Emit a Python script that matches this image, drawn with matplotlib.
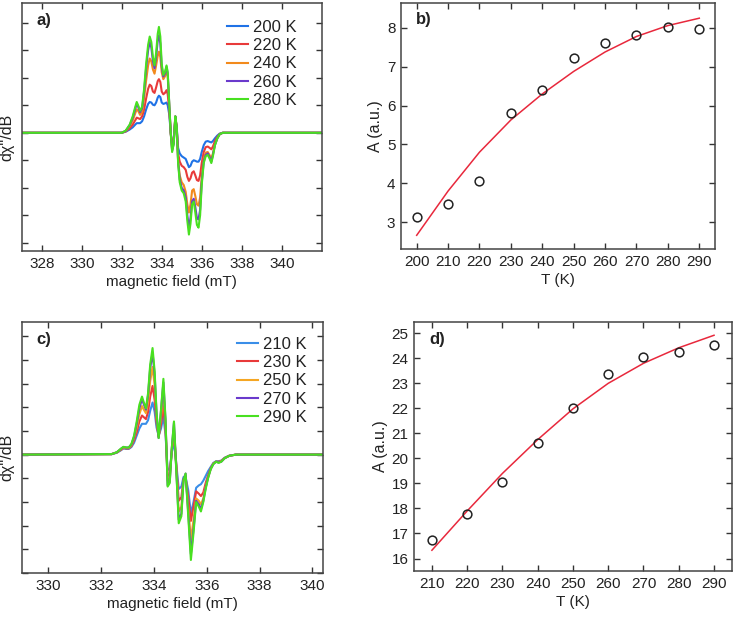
import matplotlib
matplotlib.use("Agg")
import matplotlib.pyplot as plt

plt.rcParams['font.family'] = ['Liberation Sans', 'DejaVu Sans']
plt.rcParams['font.size'] = 11
plt.rcParams['text.color'] = '#222222'
plt.rcParams['axes.labelcolor'] = '#222222'
plt.rcParams['xtick.color'] = '#333333'
plt.rcParams['ytick.color'] = '#333333'
plt.rcParams['xtick.labelcolor'] = '#222222'
plt.rcParams['ytick.labelcolor'] = '#222222'

# ---- panel a: EPR spectra (values in units of one y tick) ----
field_a = [327.0, 332.0, 332.2, 332.4, 332.55, 332.68, 332.75, 332.82, 332.92, 333.02,
           333.12, 333.22, 333.32, 333.4, 333.48, 333.56, 333.64, 333.72, 333.8, 333.86,
           333.93, 334.0, 334.08, 334.16, 334.24, 334.3, 334.38, 334.45, 334.52, 334.6,
           334.68, 334.75, 334.82, 334.9, 335.0, 335.1, 335.2, 335.28, 335.36, 335.44,
           335.52, 335.6, 335.68, 335.76, 335.84, 335.92, 336.0, 336.1, 336.2, 336.3,
           336.4, 336.48, 336.56, 336.66, 336.78, 336.9, 337.05, 342.0]
a_200 = [0, 0, 0.04, 0.12, 0.2, 0.3, 0.35, 0.35, 0.35, 0.42,
         0.6, 0.85, 1.05, 1.12, 1.1, 1.02, 1.0, 1.1, 1.28, 1.35,
         1.3, 1.1, 1.05, 1.07, 1.1, 1.0, 0.65, 0.0, -0.4, -0.25,
         0.5, 0.2, -0.55, -0.75, -0.85, -0.9, -0.95, -1.1, -1.25, -1.2,
         -1.05, -1.0, -1.02, -1.05, -1.05, -0.95, -0.7, -0.45, -0.32, -0.3,
         -0.33, -0.35, -0.3, -0.2, -0.1, -0.03, 0, 0]
a_220 = [0, 0, 0.05, 0.17, 0.3, 0.46, 0.55, 0.53, 0.5, 0.6,
         0.85, 1.25, 1.6, 1.75, 1.7, 1.5, 1.45, 1.65, 1.88, 1.95,
         1.85, 1.5, 1.4, 1.45, 1.55, 1.4, 0.8, 0.0, -0.5, -0.3,
         0.55, 0.2, -0.75, -1.05, -1.2, -1.25, -1.35, -1.6, -1.75, -1.65,
         -1.45, -1.4, -1.55, -1.72, -1.75, -1.55, -1.1, -0.7, -0.52, -0.5,
         -0.55, -0.6, -0.5, -0.3, -0.15, -0.04, 0, 0]
a_240 = [0, 0, 0.06, 0.24, 0.45, 0.72, 0.85, 0.8, 0.65, 0.75,
         1.25, 1.9, 2.45, 2.7, 2.6, 2.3, 2.15, 2.45, 2.8, 2.95,
         2.75, 2.2, 1.95, 2.05, 2.25, 2.05, 0.95, 0.0, -0.6, -0.35,
         0.6, 0.2, -1.0, -1.55, -1.8, -1.9, -2.15, -2.6, -2.9, -2.6,
         -2.1, -2.05, -2.3, -2.6, -2.65, -2.35, -1.6, -0.95, -0.72, -0.7,
         -0.82, -0.95, -0.75, -0.42, -0.2, -0.05, 0, 0]
a_260 = [0, 0, 0.07, 0.28, 0.55, 0.88, 1.05, 0.95, 0.75, 0.9,
         1.5, 2.35, 3.0, 3.3, 3.1, 2.6, 2.35, 2.75, 3.35, 3.55,
         3.25, 2.4, 2.05, 2.15, 2.4, 2.15, 1.0, 0.0, -0.65, -0.4,
         0.6, 0.2, -1.05, -1.7, -2.0, -2.1, -2.35, -3.0, -3.45, -3.1,
         -2.5, -2.4, -2.7, -3.1, -3.15, -2.8, -1.8, -1.05, -0.8, -0.75,
         -0.9, -1.05, -0.8, -0.45, -0.2, -0.05, 0, 0]
a_280 = [0, 0, 0.08, 0.3, 0.6, 0.95, 1.12, 1.0, 0.8, 0.95,
         1.6, 2.5, 3.2, 3.5, 3.3, 2.75, 2.45, 2.9, 3.6, 3.85,
         3.5, 2.5, 2.1, 2.2, 2.45, 2.2, 1.0, 0.0, -0.7, -0.4,
         0.6, 0.2, -1.1, -1.8, -2.1, -2.2, -2.5, -3.2, -3.7, -3.3,
         -2.6, -2.5, -2.9, -3.35, -3.45, -3.0, -1.9, -1.1, -0.85, -0.8,
         -0.95, -1.1, -0.85, -0.45, -0.2, -0.05, 0, 0]
labels_a = ['200 K', '220 K', '240 K', '260 K', '280 K']

# ---- panel c: EPR spectra ----
field_c = [329.0, 332.4, 332.6, 332.75, 332.85, 332.95, 333.05, 333.15, 333.25, 333.35,
           333.45, 333.55, 333.62, 333.7, 333.78, 333.86, 333.95, 334.03, 334.1, 334.18,
           334.27, 334.36, 334.44, 334.52, 334.6, 334.68, 334.76, 334.84, 334.94, 335.04,
           335.12, 335.2, 335.3, 335.4, 335.5, 335.6, 335.7, 335.78, 335.87, 335.96,
           336.05, 336.15, 336.25, 336.35, 336.45, 336.55, 336.68, 336.85, 337.1, 340.4]
c_210 = [0, 0.02, 0.08, 0.18, 0.26, 0.24, 0.24, 0.32, 0.5, 0.8,
         1.1, 1.3, 1.3, 1.3, 1.45, 1.85, 2.2, 1.8, 1.15, 0.8,
         1.1, 1.6, 0.85, -0.65, -0.6, 0.1, 0.55, -0.3, -1.45, -1.35,
         -0.95, -0.95, -1.5, -2.5, -2.0, -1.4, -1.3, -1.25, -1.1, -0.9,
         -0.7, -0.52, -0.35, -0.28, -0.28, -0.25, -0.13, -0.05, 0, 0]
c_230 = [0, 0.02, 0.09, 0.2, 0.28, 0.26, 0.26, 0.36, 0.6, 0.95,
         1.4, 1.65, 1.58, 1.5, 1.8, 2.45, 2.9, 2.3, 1.35, 0.75,
         1.3, 2.05, 1.05, -0.9, -0.85, 0.2, 0.9, -0.3, -1.95, -1.8,
         -1.05, -1.0, -1.8, -2.8, -2.2, -1.55, -1.65, -1.75, -1.6, -1.2,
         -0.88, -0.58, -0.37, -0.3, -0.3, -0.27, -0.14, -0.05, 0, 0]
c_250 = [0, 0.02, 0.1, 0.22, 0.3, 0.28, 0.28, 0.4, 0.7, 1.15,
         1.7, 2.05, 1.9, 1.75, 2.2, 3.1, 3.7, 2.9, 1.6, 0.75,
         1.6, 2.7, 1.3, -1.1, -1.0, 0.25, 1.1, -0.4, -2.4, -2.2,
         -1.05, -0.9, -2.2, -3.6, -2.75, -1.85, -1.95, -2.1, -1.85, -1.35,
         -0.95, -0.6, -0.38, -0.3, -0.32, -0.28, -0.15, -0.05, 0, 0]
c_270 = [0, 0.02, 0.1, 0.24, 0.32, 0.3, 0.3, 0.43, 0.75, 1.3,
         1.95, 2.35, 2.12, 1.9, 2.5, 3.65, 4.3, 3.35, 1.75, 0.7,
         1.85, 3.05, 1.45, -1.3, -1.15, 0.3, 1.35, -0.45, -2.75, -2.5,
         -1.05, -0.8, -2.45, -4.2, -3.15, -1.95, -2.1, -2.3, -1.95, -1.4,
         -0.97, -0.6, -0.4, -0.3, -0.33, -0.3, -0.15, -0.05, 0, 0]
c_290 = [0, 0.02, 0.1, 0.25, 0.33, 0.3, 0.3, 0.45, 0.8, 1.4,
         2.1, 2.45, 2.2, 1.95, 2.6, 3.8, 4.5, 3.5, 1.8, 0.7,
         1.9, 3.2, 1.5, -1.35, -1.2, 0.3, 1.4, -0.5, -2.9, -2.6,
         -1.1, -0.8, -2.6, -4.45, -3.3, -2.0, -2.2, -2.4, -2.0, -1.45,
         -1.0, -0.62, -0.4, -0.3, -0.35, -0.3, -0.15, -0.05, 0, 0]
labels_c = ['210 K', '230 K', '250 K', '270 K', '290 K']

# ---- panel b: amplitude vs T ----
temp_b = [200, 210, 220, 230, 240, 250, 260, 270, 280, 290]
amp_b = [3.14, 3.47, 4.06, 5.80, 6.39, 7.22, 7.61, 7.81, 8.03, 7.96]
fit_b = [2.66, 3.80, 4.80, 5.63, 6.30, 6.88, 7.38, 7.78, 8.06, 8.25]

# ---- panel d: amplitude vs T ----
temp_d = [210, 220, 230, 240, 250, 260, 270, 280, 290]
amp_d = [16.72, 17.77, 19.07, 20.61, 22.0, 23.37, 24.07, 24.27, 24.54]
fit_d = [16.33, 17.9, 19.4, 20.75, 21.98, 23.0, 23.8, 24.42, 24.92]

colors_a = ['#1f72e6', '#e83a3a', '#f28a1c', '#6a3acc', '#48e020']
colors_c = ['#3a8ee8', '#e83a3a', '#f5a623', '#6a3acc', '#48e020']
fit_color = '#e8283c'
spine_color = '#444444'


def style_axes(ax):
    for s in ax.spines.values():
        s.set_color(spine_color)
        s.set_linewidth(1.1)
    ax.tick_params(direction='in', top=True, right=True, length=4, width=1, pad=4)


def spectrum_panel(ax, field, curves, labels, colors, xlim, ylim, xticks, yticks,
                   tag, leg_anchor):
    for y, lab, col in zip(curves, labels, colors):
        ax.plot(field, y, color=col, lw=1.5, label=lab)
    ax.set_xlim(*xlim)
    ax.set_ylim(*ylim)
    ax.set_xticks(xticks)
    ax.set_yticks(yticks)
    ax.set_yticklabels([])
    ax.set_xlabel('magnetic field (mT)', labelpad=3)
    ax.set_ylabel("d\u03c7''/dB", fontsize=11.5)
    ax.yaxis.set_label_coords(-0.026, 0.46)
    style_axes(ax)
    ax.legend(loc='upper right', bbox_to_anchor=leg_anchor, frameon=False,
              handlelength=1.3, handletextpad=0.3, labelspacing=0.2,
              borderaxespad=0, fontsize=12)
    ax.text(0.05, 0.93, tag, transform=ax.transAxes, fontweight='bold', fontsize=12,
            va='center', ha='left')


def amp_panel(ax, temp, amp, fit, xlim, ylim, xticks, yticks, tag):
    ax.plot(temp, fit, color=fit_color, lw=1.1)
    ax.plot(temp, amp, 'o', mfc='none', mec='#222222', mew=1.1, ms=6.3)
    ax.set_xlim(*xlim)
    ax.set_ylim(*ylim)
    ax.set_xticks(xticks)
    ax.set_yticks(yticks)
    ax.set_xlabel('T (K)', labelpad=3)
    ax.set_ylabel('A (a.u.)', labelpad=3, fontsize=11.5)
    style_axes(ax)
    ax.text(0.047, 0.93, tag, transform=ax.transAxes, fontweight='bold', fontsize=12,
            va='center', ha='left')


fig = plt.figure(figsize=(7.34, 6.19), dpi=100)

ax_a = fig.add_axes([0.0296, 0.594, 0.4087, 0.4016])
spectrum_panel(ax_a, field_a, [a_200, a_220, a_240, a_260, a_280], labels_a, colors_a,
               (327, 342), (-4.31, 4.73), range(328, 341, 2), range(-4, 5), 'a)',
               (0.94, 0.958))

ax_b = fig.add_axes([0.5463, 0.5973, 0.4278, 0.3984])
amp_panel(ax_b, temp_b, amp_b, fit_b, (195, 295), (2.3, 8.65),
          range(200, 291, 10), range(3, 9), 'b)')

ax_c = fig.add_axes([0.0296, 0.0743, 0.4105, 0.4055])
spectrum_panel(ax_c, field_c, [c_210, c_230, c_250, c_270, c_290], labels_c, colors_c,
               (329, 340.4), (-4.98, 5.6), range(330, 341, 2), range(-5, 6), 'c)',
               (0.969, 0.968))

ax_d = fig.add_axes([0.5644, 0.0775, 0.4324, 0.4023])
amp_panel(ax_d, temp_d, amp_d, fit_d, (205, 295), (15.5, 25.45),
          range(210, 291, 10), range(16, 26), 'd)')

fig.savefig('out.png', dpi=100)
